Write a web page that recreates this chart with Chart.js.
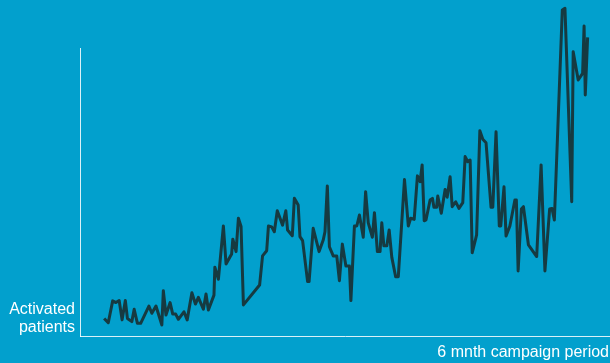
<!DOCTYPE html>
<html>
<head>
<meta charset="utf-8">
<script src="https://cdn.jsdelivr.net/npm/chart.js@4/dist/chart.umd.min.js"></script>
<style>
  html, body { margin: 0; padding: 0; background: #02a0cd; }
  .wrap { position: relative; width: 610px; height: 363px; overflow: hidden; }
  .lbl { position: absolute; color: #fff; font: 16px "Liberation Sans", Arial, sans-serif; line-height: 18px; white-space: nowrap; }
  #ylbl { right: 535px; top: 300px; text-align: right; }
  #xlbl { right: 1px; top: 343px; }
</style>
</head>
<body>
<div class="wrap">
  <canvas id="lineChart" width="610" height="363"></canvas>
  <div class="lbl" id="ylbl">Activated<br>patients</div>
  <div class="lbl" id="xlbl">6 mnth campaign period</div>
</div>
<script>
(() => {
  'use strict'

  // day of campaign (0-180) for each reading
  const days = [
    8.2, 9.6, 11.1, 12.2, 13.3, 14.3, 15.4, 16.1, 17.6, 18.4,
    19.5, 20.6, 23.4, 24.4, 25.8, 27.8, 28.3, 29.2, 30.6, 31.5,
    32.5, 33.4, 35.3, 36.4, 38.0, 39.2, 40.2, 41.9, 42.8, 43.6,
    45.5, 45.8, 47.0, 48.7, 49.6, 51.5, 51.9, 53.0, 53.8, 54.7,
    55.5, 61.0, 62.0, 63.4, 64.0, 65.1, 66.0, 67.0, 68.8, 69.9,
    70.5, 72.1, 72.8, 74.1, 74.7, 75.6, 77.3, 77.8, 79.2, 81.2,
    82.6, 83.2, 84.0, 84.7, 86.0, 87.2, 88.1, 89.1, 90.3, 91.5,
    92.0, 93.2, 94.0, 94.9, 96.2, 97.0, 97.9, 99.3, 100.0, 101.0,
    101.9, 102.5, 103.2, 104.2, 105.0, 105.9, 107.2, 108.1, 110.2, 111.5,
    112.3, 113.5, 114.6, 115.5, 116.2, 116.9, 117.5, 118.9, 119.7, 120.2,
    121.1, 121.5, 122.7, 124.0, 124.7, 125.7, 126.4, 127.6, 128.7, 130.0,
    130.8, 131.7, 132.5, 133.2, 134.7, 135.8, 136.8, 137.9, 139.6, 140.2,
    141.3, 142.4, 142.9, 144.0, 144.7, 146.0, 147.7, 148.2, 148.8, 149.9,
    150.6, 152.3, 155.1, 156.6, 157.9, 159.5, 160.3, 161.1, 163.8, 164.7,
    167.0, 167.5, 169.2, 170.7, 171.2, 171.6, 172.4
  ];

  // activated patients (relative scale)
  const patients = [
    6.1, 4.6, 12.2, 11.6, 12.3, 5.6, 12.3, 6.1, 5.0, 9.3,
    4.4, 4.4, 10.4, 7.9, 10.4, 3.8, 15.7, 7.3, 11.6, 7.6,
    7.6, 5.8, 8.4, 5.6, 15.0, 11.1, 13.4, 9.3, 14.6, 9.0,
    14.2, 23.9, 19.7, 38.2, 25.0, 28.5, 33.6, 29.3, 40.9, 38.0,
    10.8, 17.7, 27.8, 29.6, 38.2, 37.9, 36.2, 43.5, 38.5, 43.5,
    36.8, 34.8, 47.8, 45.5, 34.5, 33.1, 18.9, 18.9, 37.4, 29.3,
    33.3, 36.2, 52.1, 31.0, 27.8, 27.8, 19.2, 31.9, 24.3, 24.3,
    12.3, 38.2, 38.2, 42.0, 34.3, 50.1, 39.3, 34.3, 42.8, 29.3,
    29.3, 39.3, 31.3, 31.3, 36.8, 27.3, 20.6, 20.6, 54.3, 38.2,
    40.9, 40.5, 55.6, 53.6, 59.4, 40.0, 40.3, 47.2, 47.8, 44.7,
    44.7, 48.6, 42.6, 50.9, 48.2, 55.3, 44.9, 46.6, 44.3, 46.3,
    62.3, 60.5, 61.1, 28.9, 35.1, 71.3, 68.3, 67.1, 44.7, 44.7,
    70.9, 38.2, 38.2, 51.8, 34.7, 38.2, 47.2, 47.2, 22.6, 44.1,
    44.9, 31.6, 27.6, 59.4, 22.6, 44.1, 44.3, 40.3, 113.2, 113.8,
    46.6, 98.7, 88.9, 91.2, 107.6, 83.7, 103.7
  ];

  const points = days.map((d, i) => ({ x: d, y: patients[i] }));

  const ctx = document.getElementById('lineChart').getContext('2d');

  const config = {
    type: 'line',
    data: {
      datasets: [{
        label: 'Activated patients',
        data: points,
        borderColor: '#163a41',
        borderWidth: 3,
        borderJoinStyle: 'round',
        pointRadius: 0,
        tension: 0,
        clip: false
      }]
    },
    options: {
      responsive: false,
      animation: false,
      // scales add ~8px of their own, so padding is a bit less than the gap
      layout: { padding: { left: 72, top: 48, right: 0, bottom: 19 } },
      plugins: {
        legend: { display: false },
        tooltip: { enabled: false }
      },
      scales: {
        x: {
          type: 'linear',
          min: 0,
          max: 180,
          grid: { display: false },
          ticks: { display: false },
          border: { color: 'rgba(255,255,255,0.85)', width: 1 }
        },
        y: {
          min: 0,
          max: 100,
          grid: { display: false },
          ticks: { display: false },
          border: { color: 'rgba(255,255,255,0.85)', width: 1 }
        }
      }
    }
  };

  new Chart(ctx, config);
})()
</script>
</body>
</html>
